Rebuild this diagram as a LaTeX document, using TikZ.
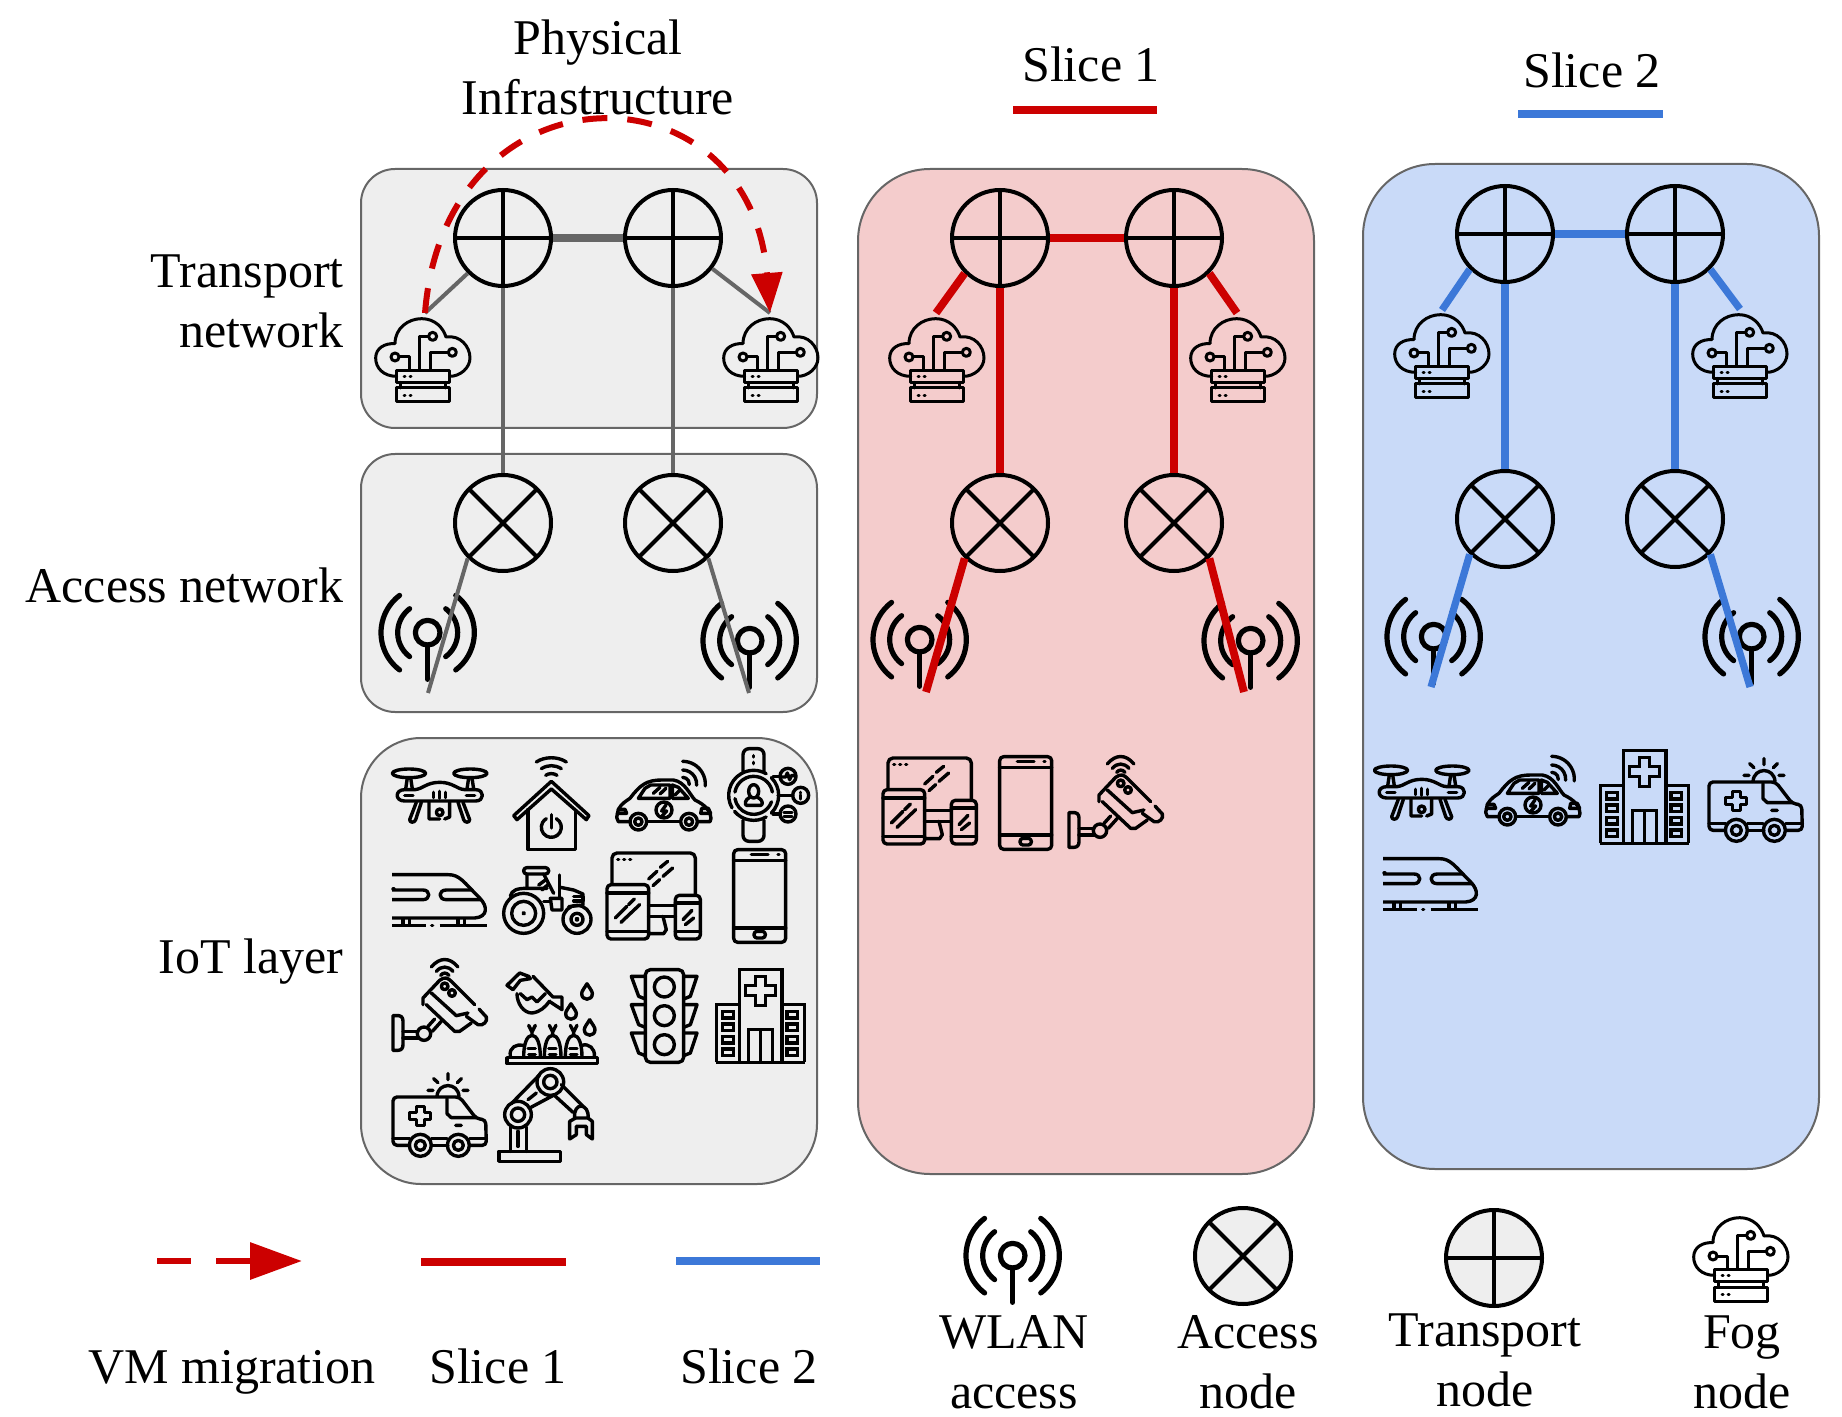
\documentclass[tikz,border=0pt]{standalone}
\usepackage{fontspec}
\setmainfont{Liberation Serif}
\usetikzlibrary{arrows.meta}
\definecolor{panelgray}{HTML}{EEEEEE}
\definecolor{panelpink}{HTML}{F4CCCC}
\definecolor{panelblue}{HTML}{C9DAF8}
\definecolor{edgegray}{HTML}{666666}
\definecolor{slicered}{HTML}{CC0000}
\definecolor{sliceblue}{HTML}{3C78D8}
\tikzset{
 iconbase/.style={scale=0.33333,line width=1.7pt,line cap=round,line join=round,draw=black},
 panel/.style={draw=edgegray,line width=1pt},
 label/.style={font=\fontsize{25}{30}\selectfont,align=center,inner sep=0pt,text=black},
 gate/.style={circle,draw=black,line width=2pt,minimum size=48pt,inner sep=0pt},
 transportnode/.style={gate,path picture={
   \draw[line width=2pt] (path picture bounding box.north)--(path picture bounding box.south);
   \draw[line width=2pt] (path picture bounding box.west)--(path picture bounding box.east);}},
 accessnode/.style={gate,path picture={
   \draw[line width=2pt] (path picture bounding box.north east)--(path picture bounding box.south west);
   \draw[line width=2pt] (path picture bounding box.north west)--(path picture bounding box.south east);}},
 grayline/.style={draw=edgegray,line width=2pt},
 redline/.style={draw=slicered,line width=3.9pt},
 blueline/.style={draw=sliceblue,line width=3.6pt},
 migrate/.style={draw=slicered,line width=3pt,dash pattern=on 12.5pt off 10pt},
 icWlan/.pic={\begin{scope}[shift={(-35,-125)},line width=2.6pt]
   \draw (178,238) circle[radius=37];
   \draw (178,275)--(178,378);
   \draw (178,238) ++(127:90) arc[start angle=127,end angle=233,radius=90];
   \draw (178,238) ++(127:140) arc[start angle=127,end angle=233,radius=140];
   \draw (178,238) ++(-53:90) arc[start angle=-53,end angle=53,radius=90];
   \draw (178,238) ++(-53:140) arc[start angle=-53,end angle=53,radius=140];
 \end{scope}},
 icFog/.pic={\begin{scope}[shift={(-45,-955)},line width=1.5pt]
   \draw (110,1130) .. controls (70,1130) and (47,1105) .. (47,1075) .. controls (47,1045) and (75,1030) .. (105,1032) .. controls (105,985) and (145,957) .. (185,957) .. controls (225,957) and (250,985) .. (258,1012) .. controls (300,1005) and (330,1040) .. (330,1075) .. controls (330,1105) and (300,1130) .. (270,1130);
   \draw (177,1108)--(177,1010)--(205,1010);
   \draw (218,1010) circle[radius=12];
   \draw (210,1108)--(210,1058)--(265,1058);
   \draw (277,1058) circle[radius=12];
   \draw (148,1108)--(148,1072)--(118,1072);
   \draw (105,1072) circle[radius=12];
   \draw (110,1112) rectangle (268,1148);
   \draw (122,1148)--(122,1165) (255,1148)--(255,1165);
   \draw (110,1165) rectangle (268,1207);
   \draw (132,1130)--(135,1130) (150,1130)--(153,1130) (132,1187)--(135,1187) (150,1187)--(153,1187);
 \end{scope}},
 icDrone/.pic={\begin{scope}[shift={(-97,-115)}]
   \draw (148,131) ellipse[x radius=50,y radius=13];
   \draw (332,131) ellipse[x radius=50,y radius=13];
   \draw (138,178)--(143,145) (158,178)--(153,145) (322,178)--(327,145) (342,178)--(337,145);
   \draw (135,180)--(165,180) .. controls (190,178) and (200,158) .. (240,158) .. controls (280,158) and (290,178) .. (315,180) -- (348,180) .. controls (375,180) and (375,214) .. (348,214) -- (135,214) .. controls (105,214) and (105,180) .. (135,180);
   \draw (135,197)--(160,197) (320,197)--(345,197) (222,188)--(222,204) (240,185)--(240,206) (258,188)--(258,204);
   \draw (170,218)--(150,270) .. controls (150,280) and (165,280) .. (168,270) -- (185,218);
   \draw (310,218)--(330,270) .. controls (330,280) and (315,280) .. (312,270) -- (295,218);
   \draw (208,218)--(208,268)--(240,268) (270,218)--(270,262)--(255,268);
   \draw (240,248) circle[radius=10];
 \end{scope}},
 icHome/.pic={\begin{scope}[shift={(-460,-82)}]
   \draw (575,155)--(688,258)--(680,270)--(575,178)--(472,270)--(462,258)--cycle;
   \draw (505,240)--(505,360)--(648,360)--(648,240);
   \draw (575,293) ++(300:30) arc[start angle=300,end angle=600,radius=30];
   \draw (575,255)--(575,295);
   \draw (530,97) .. controls (555,80) and (595,80) .. (620,97);
   \draw (545,117) .. controls (565,105) and (585,105) .. (605,117);
   \draw (558,137) .. controls (568,130) and (582,130) .. (592,137);
 \end{scope}},
 icCar/.pic={\begin{scope}[shift={(-768,-90)}]
   \draw (808,275)--(775,275)--(770,262)--(775,238) .. controls (785,220) and (800,212) .. (810,205) .. controls (840,165) and (860,150) .. (905,150)--(940,150) .. controls (975,155) and (990,195) .. (1005,210) .. controls (1035,225) and (1050,240) .. (1053,265)--(1050,275)--(1015,275);
   \draw (862,275)--(960,275);
   \foreach \cx in {835,987} {\draw (\cx,275) circle[radius=25]; \draw (\cx,275) circle[radius=11];}
   \draw (835,205)--(855,175)--(872,165)--(930,165)--(930,205)--cycle;
   \draw (937,165)--(955,172)--(985,205)--(937,205)--cycle;
   \draw (880,190)--(900,172) (900,192)--(918,175) (945,195)--(958,182);
   \draw (912,240) circle[radius=24];
   \draw (918,225)--(905,243)--(920,243)--(907,257);
   \draw (775,238)--(795,238)--(800,250)--(772,250);
   \draw (1025,235)--(1045,235)--(1052,250)--(1022,250)--cycle;
   \draw (968,162) ++(270:68) arc[start angle=270,end angle=365,radius=68];
   \draw (968,162) ++(270:42) arc[start angle=270,end angle=365,radius=42];
   \draw (968,162) ++(270:20) arc[start angle=270,end angle=365,radius=20];
 \end{scope}},
 icWatch/.pic={\begin{scope}[shift={(-1105,-55)}]
   \draw[rounded corners=3pt] (1150,125)--(1150,57)--(1213,57)--(1213,125);
   \draw[rounded corners=3pt] (1150,272)--(1150,335)--(1213,335)--(1213,272);
   \draw (1182,78)--(1182,82) (1182,98)--(1182,102);
   \draw (1182,197) ++(-45:75) arc[start angle=-45,end angle=45,radius=75];
   \draw (1182,197) ++(60:75) arc[start angle=60,end angle=140,radius=75];
   \draw (1182,197) ++(150:75) arc[start angle=150,end angle=300,radius=75];
   \draw (1182,197) ++(20:57) arc[start angle=20,end angle=170,radius=57];
   \draw (1182,197) ++(190:57) arc[start angle=190,end angle=350,radius=57];
   \draw (1182,185) ellipse[x radius=15,y radius=20];
   \draw (1170,203) .. controls (1155,210) and (1155,225) .. (1160,227)--(1204,227) .. controls (1210,225) and (1210,210) .. (1194,203);
   \draw (1240,140)--(1262,140) (1255,197)--(1300,197) (1240,253)--(1262,253);
   \draw (1285,140) circle[radius=24];
   \draw (1323,197) circle[radius=24];
   \draw (1285,253) circle[radius=24];
   \draw (1268,142)--(1278,142)--(1283,130)--(1290,150)--(1295,138)--(1303,138);
   \draw (1323,188)--(1323,190) (1323,196)--(1323,208);
   \draw (1273,248)--(1297,248) (1273,260)--(1297,260);
 \end{scope}},
 icTrain/.pic={\begin{scope}[shift={(-97,-430)}]
   \draw[line cap=butt] (97,435)--(265,435) .. controls (300,435) and (310,455) .. (360,505) .. controls (385,530) and (385,562) .. (345,565)--(97,565);
   \draw[line cap=butt] (97,481)--(190,481) .. controls (213,481) and (213,510) .. (190,510)--(97,510);
   \draw (335,481)--(260,481) .. controls (235,481) and (235,510) .. (260,510)--(362,510);
   \draw (100,478)--(103,478);
   \draw[line cap=butt] (97,587)--(200,587) (240,587)--(383,587);
   \draw (216,587)--(219,587);
   \draw (130,568)--(130,585) (150,568)--(150,585) (295,568)--(295,585) (315,568)--(315,585);
 \end{scope}},
 icTractor/.pic={\begin{scope}[shift={(-428,-408)}]
   \draw (490,550) circle[radius=60]; \draw (490,550) circle[radius=36]; \draw (490,550) circle[radius=2];
   \draw (650,568) circle[radius=42]; \draw (650,568) circle[radius=18]; \draw (650,568) circle[radius=3];
   \draw[rounded corners=1.5pt] (490,413)--(565,413)--(565,432)--(490,432)--cycle;
   \draw (500,432)--(500,475) (550,432)--(580,490);
   \draw (450,498) .. controls (455,480) and (470,475) .. (500,475)--(560,475);
   \draw (597,435)--(597,505);
   \draw (600,472)--(640,480)--(668,492)--(668,525)--(625,530);
   \draw (640,500)--(668,500)--(668,513)--(640,513);
   \draw (570,505)--(605,505)--(605,540)--(575,540)--cycle;
   \draw (535,465)--(555,450) (545,480)--(565,462);
   \draw (550,515)--(570,515);
 \end{scope}},
 icDevices/.pic={\begin{scope}[shift={(-737,-367)}]
   \draw[rounded corners=2.5pt] (755,462)--(755,370)--(1005,370)--(1005,495);
   \draw (772,390)--(775,390) (790,390)--(793,390) (808,390)--(811,390);
   \draw (865,448)--(890,425) (900,413)--(922,395) (878,468)--(898,450) (908,440)--(937,415);
   \draw[rounded corners=2pt] (740,465) rectangle (865,628);
   \draw (740,490)--(865,490) (740,605)--(865,605);
   \draw (765,565)--(800,530) (805,525)--(822,508) (782,578)--(838,525);
   \draw[rounded corners=2pt] (945,497) rectangle (1020,628);
   \draw (945,520)--(1020,520) (945,605)--(1020,605);
   \draw (968,570)--(995,542) (975,585)--(1000,565);
   \draw (865,527)--(945,527) (865,560)--(945,560);
   \draw (908,560)--(918,600)--(910,612)--(865,612);
 \end{scope}},
 icPhone/.pic={\begin{scope}[shift={(-1120,-358)}]
   \draw[rounded corners=2pt] (1122,360) rectangle (1278,638);
   \draw (1122,393)--(1278,393) (1122,595)--(1278,595);
   \draw (1175,375)--(1225,375) (1255,375)--(1258,375);
   \draw[rounded corners=1.5pt] (1183,605) rectangle (1217,625);
 \end{scope}},
 icCamera/.pic={\begin{scope}[shift={(-97,-685)}]
   \draw (100,858)--(118,858) .. controls (130,860) and (130,870) .. (130,880)--(130,945) .. controls (130,955) and (125,962) .. (115,962)--(100,962)--cycle;
   \draw (130,905)--(175,905) (130,925)--(175,925);
   \draw (193,912) circle[radius=20];
   \draw (205,890)--(225,868) (218,905)--(245,875);
   \draw (190,825)--(190,805)--(240,752) .. controls (255,740) and (265,745) .. (275,755)--(345,825);
   \draw (358,838)--(380,862) .. controls (385,875) and (370,890) .. (355,885)--(320,860);
   \draw (200,825)--(285,905)--(300,905)--(335,880);
   \draw (215,790)--(290,858)--(325,850);
   \draw (255,770) circle[radius=10];
   \draw (277,790) circle[radius=10];
   \draw (215,712) .. controls (240,682) and (270,682) .. (295,712);
   \draw (230,725) .. controls (245,708) and (265,708) .. (280,725);
   \draw (243,737) .. controls (250,728) and (260,728) .. (268,737);
 \end{scope}},
 icWater/.pic={\begin{scope}[shift={(-437,-725)}]
   \draw (440,982) rectangle (712,1000);
   \foreach \cx in {515,577,640} {
     \draw (\cx-25,980) .. controls (\cx-25,940) and (\cx-15,915) .. (\cx,915) .. controls (\cx+15,915) and (\cx+25,940) .. (\cx+25,980);
     \draw (\cx,915)--(\cx,905)--(\cx-10,885) (\cx,905)--(\cx+10,885);
     \draw (\cx-12,955)--(\cx+10,955) (\cx-10,972)--(\cx+10,972);
   }
   \draw (450,978) .. controls (445,950) and (470,940) .. (490,945);
   \draw (665,945) .. controls (685,938) and (705,955) .. (702,978);
   \foreach \dx/\dy in {680/760,632/820,688/868} {
     \draw (\dx,\dy) .. controls (\dx-8,\dy+14) and (\dx-16,\dy+22) .. (\dx-16,\dy+30) .. controls (\dx-16,\dy+52) and (\dx+16,\dy+52) .. (\dx+16,\dy+30) .. controls (\dx+16,\dy+22) and (\dx+8,\dy+14) .. (\dx,\dy);
   }
   \draw (440,765)--(478,728)--(505,738)--(510,745)--(480,750)--(458,778)--cycle;
   \draw (518,738)--(578,800)--(605,800)--(605,838)--(570,815);
   \draw (470,790) .. controls (470,820) and (490,848) .. (515,848) .. controls (540,845) and (555,830) .. (568,812);
   \draw (480,790)--(500,808)--(515,800)--(530,815)--(555,790);
 \end{scope}},
 icTraffic/.pic={\begin{scope}[shift={(-812,-718)}]
   \draw[rounded corners=2.5pt] (855,720) rectangle (970,998);
   \foreach \cy in {772,858,945} {\draw (912,\cy) circle[radius=30];}
   \foreach \sy in {0,85,170} {
     \draw (855,740+\sy)--(813,740+\sy)--(835,800+\sy)--(855,808+\sy);
     \draw (970,740+\sy)--(1010,740+\sy)--(990,800+\sy)--(970,808+\sy);
   }
 \end{scope}},
 icHospital/.pic={\begin{scope}[shift={(-1067,-718)},line cap=butt,line join=miter]
   \draw (1137,998)--(1137,720)--(1265,720)--(1265,998);
   \draw (1068,998)--(1068,825)--(1137,825) (1265,825)--(1333,825)--(1333,998);
   \draw (1068,998)--(1333,998);
   \draw (1185,740)--(1215,740)--(1215,768)--(1245,768)--(1245,797)--(1215,797)--(1215,827)--(1185,827)--(1185,797)--(1155,797)--(1155,768)--(1185,768)--cycle;
   \draw (1165,998)--(1165,900)--(1237,900)--(1237,998) (1200,900)--(1200,998);
   \foreach \wy in {845,883,920,958} {
     \draw (1087,\wy) rectangle (1120,\wy+20);
     \draw (1280,\wy) rectangle (1312,\wy+20);
   }
 \end{scope}},
 icAmbulance/.pic={\begin{scope}[shift={(-97,-1028)}]
   \draw[rounded corners=2pt] (150,1245)--(100,1245)--(100,1100)--(300,1100)--(350,1165)--(378,1168)--(380,1245)--(330,1245);
   \draw (215,1245)--(265,1245);
   \draw (100,1225)--(150,1225) (215,1225)--(262,1225) (330,1225)--(380,1225);
   \foreach \cx in {182,296} {\draw (\cx,1245) circle[radius=33]; \draw (\cx,1245) circle[radius=15];}
   \draw (262,1105)--(262,1150)--(275,1162)--(350,1162);
   \draw (170,1128)--(194,1128)--(194,1146)--(213,1146)--(213,1168)--(194,1168)--(194,1186)--(170,1186)--(170,1168)--(150,1168)--(150,1146)--(170,1146)--cycle;
   \draw (232,1098) .. controls (235,1055) and (295,1055) .. (298,1098);
   \draw (265,1030)--(265,1048) (222,1045)--(235,1057) (305,1045)--(293,1057) (205,1080)--(220,1080) (310,1080)--(325,1080) (288,1185)--(305,1185);
 \end{scope}},
 icRobot/.pic={\begin{scope}[shift={(-415,-1015)}]
   \draw (418,1265) rectangle (603,1295);
   \draw (452,1192)--(452,1265) (500,1192)--(500,1265) (475,1205)--(475,1250);
   \draw (475,1155) circle[radius=40]; \draw (475,1155) circle[radius=20];
   \draw (572,1057) circle[radius=40]; \draw (572,1057) circle[radius=20];
   \draw (455,1122)--(540,1035) (510,1135)--(585,1095) (505,1110)--(530,1090);
   \draw (605,1065)--(670,1130) (582,1095)--(640,1148);
   \draw (645,1165) .. controls (640,1115) and (690,1120) .. (685,1165);
   \draw (630,1228)--(630,1175)--(648,1165)--(685,1165)--(698,1175)--(698,1228)--(680,1215)--(680,1190)--(650,1190)--(650,1215)--cycle;
 \end{scope}},
}
\begin{document}
\begin{tikzpicture}[x=0.5pt,y=-0.5pt]
\useasboundingbox (0,0) rectangle (1842,1417);
% panels
\path[panel,fill=panelgray,rounded corners=17pt] (361,169) rectangle (817,428);
\path[panel,fill=panelgray,rounded corners=17pt] (361,454) rectangle (817,712);
\path[panel,fill=panelgray,rounded corners=30pt] (361,738) rectangle (817,1184);
\path[panel,fill=panelpink,rounded corners=36pt] (858,169) rectangle (1314,1174);
\path[panel,fill=panelblue,rounded corners=36pt] (1363,164) rectangle (1819,1169);
% icons: fog
\pic[iconbase] at (375,318) {icFog};
\pic[iconbase] at (723,318) {icFog};
\pic[iconbase] at (889,318) {icFog};
\pic[iconbase] at (1190,318) {icFog};
\pic[iconbase] at (1394,314) {icFog};
\pic[iconbase] at (1692,314) {icFog};
\pic[iconbase] at (1693,1217) {icFog};
% icons: WLAN
\pic[iconbase] at (380,595) {icWlan};
\pic[iconbase] at (702,603) {icWlan};
\pic[iconbase] at (872,602) {icWlan};
\pic[iconbase] at (1203,603) {icWlan};
\pic[iconbase] at (1386,599) {icWlan};
\pic[iconbase] at (1704,599) {icWlan};
\pic[iconbase] at (965,1218) {icWlan};
% icons: IoT
\pic[iconbase] at (392,768) {icDrone};
\pic[iconbase] at (513,757) {icHome};
\pic[iconbase] at (616,760) {icCar};
\pic[iconbase] at (728,748) {icWatch};
\pic[iconbase] at (392,873) {icTrain};
\pic[iconbase] at (503,866) {icTractor};
\pic[iconbase] at (606,852) {icDevices};
\pic[iconbase] at (733,849) {icPhone};
\pic[iconbase] at (392,958) {icCamera};
\pic[iconbase] at (506,972) {icWater};
\pic[iconbase] at (631,969) {icTraffic};
\pic[iconbase] at (716,969) {icHospital};
\pic[iconbase] at (392,1073) {icAmbulance};
\pic[iconbase] at (498,1068) {icRobot};
% slice 1 icons
\pic[iconbase] at (882,757) {icDevices};
\pic[iconbase] at (999,756) {icPhone};
\pic[iconbase] at (1068,755) {icCamera};
% slice 2 icons
\pic[iconbase] at (1374,765) {icDrone};
\pic[iconbase] at (1485,755) {icCar};
\pic[iconbase] at (1600,750) {icHospital};
\pic[iconbase] at (1708,758) {icAmbulance};
\pic[iconbase] at (1383,857) {icTrain};
% nodes
\node[transportnode] (pt1) at (503,238) {};
\node[transportnode] (pt2) at (673,238) {};
\node[accessnode] (pa1) at (503,523) {};
\node[accessnode] (pa2) at (673,523) {};
\node[transportnode] (rt1) at (1000,238) {};
\node[transportnode] (rt2) at (1174,238) {};
\node[accessnode] (ra1) at (1000,523) {};
\node[accessnode] (ra2) at (1174,523) {};
\node[transportnode] (bt1) at (1505,234) {};
\node[transportnode] (bt2) at (1675,234) {};
\node[accessnode] (ba1) at (1505,519) {};
\node[accessnode] (ba2) at (1675,519) {};
\node[accessnode,fill=panelgray] (lega) at (1243,1256) {};
\node[transportnode,fill=panelgray] (legt) at (1494,1258) {};
% connector ends
\coordinate (pf1) at (425,313);
\coordinate (pf2) at (770,313);
\coordinate (pw1) at (428,693);
\coordinate (pw2) at (749,693);
\coordinate (rf1) at (936,313);
\coordinate (rf2) at (1237,313);
\coordinate (rw1) at (926,692);
\coordinate (rw2) at (1244,692);
\coordinate (bf1) at (1442,310);
\coordinate (bf2) at (1740,309);
\coordinate (bw1) at (1431,687);
\coordinate (bw2) at (1750,687);
% physical connectors
\draw[grayline,line width=4pt] (pt1)--(pt2);
\draw[grayline] (pt1)--(pa1);
\draw[grayline] (pt2)--(pa2);
\draw[grayline] (pt1.225)--(pf1);
\draw[grayline] (pt2.-38)--(pf2);
\draw[grayline] (pa1.225)--(pw1);
\draw[grayline] (pa2.-45)--(pw2);
% red connectors
\draw[redline] (rt1)--(rt2);
\draw[redline] (rt1)--(ra1);
\draw[redline] (rt2)--(ra2);
\draw[redline] (rt1.225)--(rf1);
\draw[redline] (rt2.-45)--(rf2);
\draw[redline] (ra1.225)--(rw1);
\draw[redline] (ra2.-45)--(rw2);
% blue connectors
\draw[blueline] (bt1)--(bt2);
\draw[blueline] (bt1)--(ba1);
\draw[blueline] (bt2)--(ba2);
\draw[blueline] (bt1.225)--(bf1);
\draw[blueline] (bt2.-45)--(bf2);
\draw[blueline] (ba1.225)--(bw1);
\draw[blueline] (ba2.-45)--(bw2);
% migration arc
\draw[migrate,-{Triangle[length=20pt,width=15pt,fill=slicered]}] (pf1) .. controls (445,60) and (750,60) .. (pf2);
% heading rules
\coordinate (h1a) at (1013,110); \coordinate (h1b) at (1157,110);
\coordinate (h2a) at (1518,114); \coordinate (h2b) at (1663,114);
\draw[redline] (h1a)--(h1b);
\draw[blueline,line width=3.9pt] (h2a)--(h2b);
% legend lines
\coordinate (lma) at (157,1261); \coordinate (lmb) at (302,1261);
\coordinate (lra) at (421,1262); \coordinate (lrb) at (566,1262);
\coordinate (lba) at (676,1261); \coordinate (lbb) at (820,1261);
\draw[draw=slicered,line width=3.2pt,dash pattern=on 17pt off 12.5pt,-{Triangle[length=26pt,width=18pt,fill=slicered]}] (lma)--(lmb);
\draw[redline] (lra)--(lrb);
\draw[blueline,line width=3.9pt] (lba)--(lbb);
% labels
\node[label] (tphys) at (598,67) {Physical\\Infrastructure};
\node[label] (ts1) at (1091,64) {Slice 1};
\node[label] (ts2) at (1592,70) {Slice 2};
\node[label,anchor=east,align=right] (ttn) at (344,301) {Transport\\network};
\node[label,anchor=east] (tan) at (344,585) {Access network};
\node[label,anchor=east] (tiot) at (344,962) {IoT layer};
\node[label] (lvm) at (232,1372) {VM migration};
\node[label] (ls1) at (498,1366) {Slice 1};
\node[label] (ls2) at (749,1366) {Slice 2};
\node[label] (lwl) at (1014,1362) {WLAN\\access};
\node[label] (lac) at (1248,1362) {Access\\node};
\node[label] (ltr) at (1485,1360) {Transport\\node};
\node[label] (lfg) at (1742,1362) {Fog\\node};
\end{tikzpicture}
\end{document}
